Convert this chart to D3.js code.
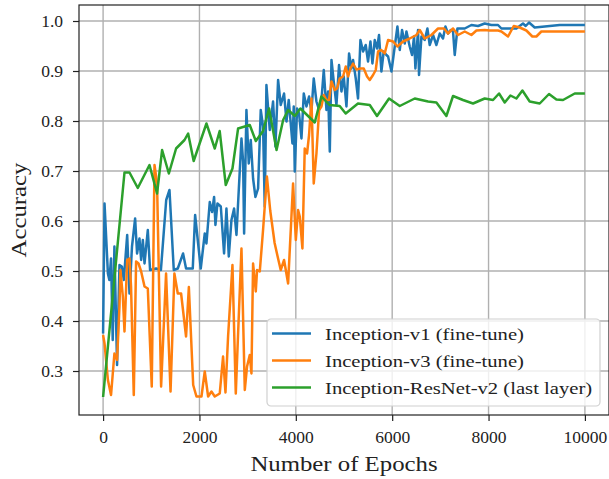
<!DOCTYPE html>
<html>
<head>
<meta charset="utf-8">
<script src="https://cdn.jsdelivr.net/npm/d3@7"></script>
<style>
  body { margin: 0; background: #fff; }
  svg text { font-family: "Liberation Serif", "DejaVu Serif", serif; fill: #222; }
</style>
</head>
<body>
<div id="chart"></div>
<script>
/* accuracy vs epochs, three inception models */

const seriesNames = ["Inception-v1 (fine-tune)", "Inception-v3 (fine-tune)", "Inception-ResNet-v2 (last layer)"];
const colors = ["#1f77b4", "#ff7f0e", "#2ca02c"];

const v1Epochs = [0,30,100,130,165,200,235,290,340,390,430,500,548,600,665,705,755,790,825,860,928,975,1100,1200,1310,1378,1467,1550,1660,1722,1861,1910,2027,2110,2145,2214,2262,2304,2332,2373,2443,2511,2560,2609,2664,2719,2768,2816,2872,2906,2927,2975,3023,3065,3113,3162,3217,3272,3320,3355,3390,3459,3528,3577,3632,3687,3756,3806,3853,3930,3957,3978,4026,4067,4117,4165,4221,4275,4324,4372,4428,4483,4532,4580,4636,4670,4705,4740,4787,4843,4897,4947,4995,5051,5105,5155,5188,5244,5291,5341,5396,5451,5499,5549,5590,5638,5686,5727,5776,5824,5880,5915,5985,6053,6109,6157,6205,6261,6296,6364,6412,6454,6482,6537,6557,6607,6675,6731,6779,6848,6918,6987,7055,7105,7159,7215,7263,7298,7354,7506,7644,7782,7920,8060,8197,8267,8578,8715,8771,8840,8958,9477,10000];
const v1Acc = [0.375,0.635,0.495,0.482,0.525,0.362,0.549,0.312,0.512,0.509,0.482,0.572,0.455,0.549,0.605,0.535,0.565,0.522,0.562,0.515,0.582,0.502,0.505,0.502,0.642,0.662,0.502,0.505,0.535,0.505,0.505,0.612,0.505,0.575,0.555,0.638,0.618,0.648,0.592,0.635,0.629,0.535,0.625,0.529,0.602,0.625,0.572,0.662,0.765,0.719,0.575,0.822,0.715,0.762,0.685,0.648,0.665,0.822,0.789,0.629,0.872,0.782,0.839,0.749,0.882,0.832,0.855,0.799,0.842,0.755,0.829,0.699,0.825,0.815,0.765,0.855,0.829,0.849,0.819,0.885,0.839,0.822,0.842,0.902,0.822,0.859,0.739,0.922,0.879,0.832,0.912,0.859,0.889,0.829,0.935,0.905,0.922,0.885,0.845,0.962,0.939,0.952,0.919,0.959,0.915,0.962,0.945,0.972,0.899,0.939,0.932,0.929,0.899,0.949,0.989,0.942,0.982,0.955,0.979,0.949,0.932,0.969,0.905,0.982,0.892,0.969,0.962,0.985,0.952,0.972,0.952,0.975,0.965,0.989,0.975,0.982,0.979,0.932,0.985,0.985,0.992,0.99,0.995,0.992,0.992,0.985,0.985,0.995,0.99,0.997,0.987,0.992,0.992];

const v3Epochs = [0,30,100,165,235,290,340,360,410,444,500,548,580,637,685,735,790,860,928,1010,1067,1120,1204,1307,1400,1480,1550,1619,1722,1780,1870,1938,2042,2110,2180,2249,2318,2421,2490,2540,2594,2685,2754,2802,2872,2941,2988,3044,3079,3113,3169,3196,3252,3320,3400,3470,3560,3620,3687,3756,3840,3943,4000,4047,4082,4137,4185,4233,4275,4324,4372,4428,4483,4532,4580,4636,4690,4740,4808,4856,4911,4980,5036,5085,5134,5188,5258,5341,5410,5479,5534,5603,5659,5707,5776,5845,5915,6019,6109,6225,6364,6503,6572,6675,6814,6952,7076,7159,7263,7367,7506,7644,7748,7920,8020,8197,8267,8405,8523,8647,8785,8909,8993,9096,9408,10000];
const v3Acc = [0.372,0.355,0.282,0.252,0.335,0.322,0.429,0.502,0.449,0.379,0.522,0.525,0.469,0.252,0.519,0.515,0.499,0.469,0.465,0.269,0.712,0.675,0.269,0.495,0.259,0.495,0.455,0.455,0.369,0.468,0.272,0.249,0.249,0.299,0.249,0.259,0.249,0.255,0.329,0.257,0.369,0.512,0.255,0.375,0.545,0.262,0.309,0.332,0.295,0.515,0.459,0.502,0.499,0.582,0.689,0.62,0.556,0.53,0.502,0.522,0.475,0.675,0.562,0.622,0.609,0.545,0.745,0.735,0.772,0.845,0.675,0.735,0.822,0.829,0.852,0.842,0.842,0.879,0.862,0.865,0.885,0.889,0.909,0.889,0.905,0.915,0.903,0.905,0.905,0.889,0.882,0.892,0.902,0.939,0.942,0.935,0.962,0.959,0.949,0.959,0.965,0.972,0.982,0.965,0.972,0.985,0.985,0.975,0.985,0.972,0.979,0.972,0.981,0.982,0.981,0.981,0.979,0.969,0.99,0.987,0.981,0.969,0.969,0.979,0.979,0.979];

const resEpochs = [0,444,548,720,963,1120,1225,1365,1515,1690,1765,1880,2145,2318,2420,2546,2685,2802,3044,3170,3320,3445,3600,3737,3840,3980,4095,4255,4393,4530,4700,4910,5035,5290,5535,5685,5935,6157,6468,6745,6918,7125,7263,7470,7678,7920,8093,8218,8336,8454,8578,8703,8854,9062,9255,9408,9546,9789,10000];
const resAcc = [0.248,0.697,0.697,0.666,0.712,0.655,0.742,0.695,0.745,0.762,0.775,0.72,0.795,0.745,0.78,0.672,0.705,0.785,0.792,0.76,0.78,0.825,0.742,0.802,0.822,0.81,0.825,0.81,0.797,0.849,0.832,0.83,0.815,0.835,0.832,0.81,0.845,0.83,0.845,0.839,0.837,0.81,0.85,0.842,0.835,0.845,0.842,0.855,0.837,0.851,0.845,0.861,0.839,0.835,0.854,0.843,0.842,0.855,0.855];

const xTicks = [0, 2000, 4000, 6000, 8000, 10000];
const yTicks = [0.3, 0.4, 0.5, 0.6, 0.7, 0.8, 0.9, 1.0];

const width = 609,
      height = 479,
      margin = ({top: 5, right: 0, bottom: 64, left: 79});

const series = [
  {name: seriesNames[0], color: colors[0], pts: v1Epochs.map((e, i) => [e, v1Acc[i]])},
  {name: seriesNames[1], color: colors[1], pts: v3Epochs.map((e, i) => [e, v3Acc[i]])},
  {name: seriesNames[2], color: colors[2], pts: resEpochs.map((e, i) => [e, resAcc[i]])}
];

// the original uses computer modern, which runs wider than times
const stretch = sel => sel.each(function() {
    this.setAttribute("textLength", this.getComputedTextLength() * 1.18);
    this.setAttribute("lengthAdjust", "spacingAndGlyphs");
});

let svg = d3.select("#chart")
    .append("svg")
    .attr("width", width)
    .attr("height", height);

let x = d3.scaleLinear()
    .domain([-500, 10500])
    .range([margin.left, width - margin.right]);

let y = d3.scaleLinear()
    .domain([0.212, 1.032])
    .range([height - margin.bottom, margin.top]);

// grid
svg.append("g")
    .selectAll("line")
    .data(xTicks)
    .join("line")
    .attr("x1", d => x(d)).attr("x2", d => x(d))
    .attr("y1", margin.top).attr("y2", height - margin.bottom)
    .attr("stroke", "#b0b0b0").attr("stroke-width", 1.4);

svg.append("g")
    .selectAll("line")
    .data(yTicks)
    .join("line")
    .attr("x1", margin.left).attr("x2", width - margin.right)
    .attr("y1", d => y(d)).attr("y2", d => y(d))
    .attr("stroke", "#b0b0b0").attr("stroke-width", 1.4);

// lines
const line = d3.line()
    .x(d => x(d[0]))
    .y(d => y(d[1]));

svg.append("g")
    .selectAll("path")
    .data(series)
    .join("path")
    .attr("fill", "none")
    .attr("stroke", d => d.color)
    .attr("stroke-width", 2.5)
    .attr("stroke-linejoin", "round")
    .attr("d", d => line(d.pts));

// axes
const xAxis = g => g
    .attr("transform", `translate(0, ${height - margin.bottom})`)
    .call(d3.axisBottom(x).tickValues(xTicks).tickFormat(d3.format("d")).tickSize(6).tickPadding(10))
    .call(g => g.select(".domain").remove());

const yAxis = g => g
    .attr("transform", `translate(${margin.left}, 0)`)
    .call(d3.axisLeft(y).tickValues(yTicks).tickFormat(d3.format(".1f")).tickSize(6).tickPadding(10))
    .call(g => g.select(".domain").remove());

svg.append("g").call(xAxis);
svg.append("g").call(yAxis);

svg.selectAll(".tick text")
    .attr("font-family", "Liberation Serif, serif")
    .attr("font-size", 17.5)
    .attr("fill", "#222");
svg.selectAll(".tick line").attr("stroke", "#222").attr("stroke-width", 1.2);

// frame
svg.append("rect")
    .attr("x", margin.left)
    .attr("y", margin.top)
    .attr("width", width - margin.right - margin.left)
    .attr("height", height - margin.bottom - margin.top)
    .attr("fill", "none")
    .attr("stroke", "#222")
    .attr("stroke-width", 1.2);

// axis labels
svg.append("text")
    .attr("x", 344)
    .attr("y", 471)
    .attr("text-anchor", "middle")
    .attr("font-size", 21)
    .text("Number of Epochs")
    .call(stretch);

svg.append("text")
    .attr("transform", `translate(26, 210) rotate(-90)`)
    .attr("text-anchor", "middle")
    .attr("font-size", 21)
    .text("Accuracy")
    .call(stretch);

// legend
let legend = svg.append("g").attr("transform", "translate(267, 319)");

legend.append("rect")
    .attr("width", 333)
    .attr("height", 87)
    .attr("rx", 4)
    .attr("fill", "#fff")
    .attr("fill-opacity", 0.8)
    .attr("stroke", "#d0d0d0")
    .attr("stroke-width", 1.2);

let item = legend.selectAll(".item")
    .data(series)
    .join("g")
    .attr("class", "item")
    .attr("transform", (d, i) => `translate(0, ${14.5 + i * 27})`);

item.append("line")
    .attr("x1", 5).attr("x2", 44)
    .attr("stroke", d => d.color)
    .attr("stroke-width", 2.5);

item.append("text")
    .attr("x", 58)
    .attr("dy", "0.35em")
    .attr("font-size", 17.5)
    .text(d => d.name)
    .call(stretch);
</script>
</body>
</html>
